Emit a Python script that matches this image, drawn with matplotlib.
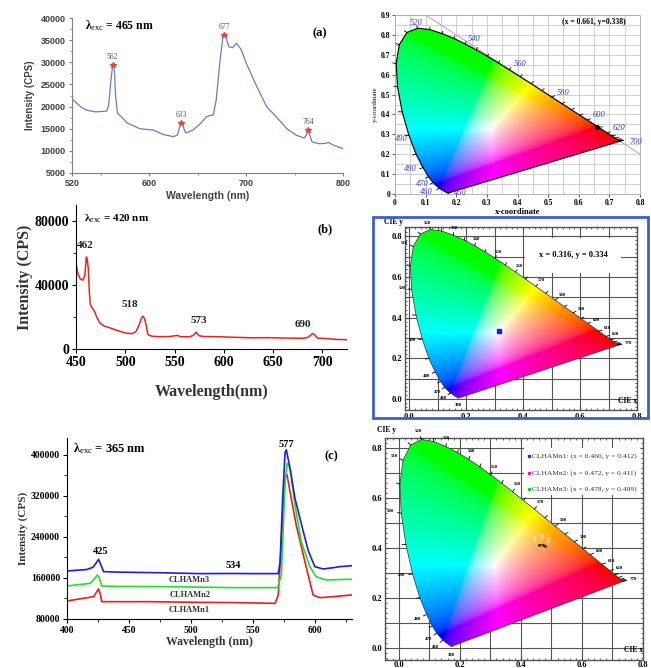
import matplotlib
matplotlib.use('Agg')
import matplotlib.pyplot as plt
import numpy as np
from matplotlib.path import Path
from matplotlib.patches import PathPatch, Rectangle
from matplotlib.ticker import MultipleLocator, FuncFormatter

plt.rcParams['mathtext.fontset'] = 'custom'
plt.rcParams['mathtext.rm'] = 'Liberation Serif'
plt.rcParams['mathtext.bf'] = 'Liberation Serif:bold'
plt.rcParams['mathtext.it'] = 'Liberation Serif:italic'

# (a) emission spectrum, excitation 465 nm
wl_a = [520, 522, 530, 535, 544, 552, 556, 558, 560, 562, 563, 564, 565, 567, 571, 577,
        590, 604, 614, 625, 629, 631, 633, 635, 637, 639, 645, 652, 659, 663, 666, 669,
        673, 676, 678, 680, 682, 686, 690, 695, 700, 711, 721, 731, 742, 752, 760, 762,
        764, 766, 768, 776, 782, 785, 790, 800]
int_a = [21800, 21300, 19800, 19200, 18800, 18900, 19000, 20500, 25500, 29300, 29600, 27500,
         22500, 18500, 17700, 16300, 15000, 14700, 13700, 13200, 13600, 15200, 16200, 15400,
         14200, 14100, 14700, 16000, 17700, 18000, 18100, 21500, 30500, 35800, 36400, 35000,
         33500, 33300, 34300, 32800, 29800, 24500, 20000, 17700, 15000, 13500, 12900, 13500,
         14600, 13400, 12000, 11600, 11700, 11900, 11300, 10500]
peaks_a = [562, 633, 677, 764]

# (b) emission spectrum, excitation 420 nm
wl_b = [450, 452, 454, 457, 459, 460.5, 461.5, 462.5, 463.5, 464.5, 466, 469, 471, 474, 478,
        483, 491, 500, 507, 511, 514, 516.5, 518, 519.5, 521, 523, 527, 535, 545, 553, 556,
        565, 569, 572, 575, 580, 594, 611, 630, 645, 665, 680, 685, 688, 690, 692, 695, 705,
        714, 725]
int_b = [53500, 47000, 44000, 43000, 46000, 57500, 56000, 50000, 36000, 28000, 26000, 23300,
         20000, 16500, 14500, 13500, 11800, 10000, 9600, 11000, 15000, 19500, 20500, 19000,
         15500, 9000, 8000, 7700, 7800, 8500, 7700, 7600, 8500, 10500, 8200, 7800, 7700, 7300,
         7000, 7100, 6800, 6700, 7200, 8500, 9700, 9000, 6800, 6500, 6000, 5800]
peaks_b = [462, 518, 573, 690]

# (c) emission spectra, excitation 365 nm
wl_c1 = [400, 421.5, 424, 425.5, 427, 428, 467, 507, 534, 568, 570.5, 573, 576, 577.5, 580,
         585, 592, 598.6, 604, 614.8, 630]
int_c1 = [115100, 123600, 133000, 138500, 128000, 113800, 113800, 112500, 112000, 110500,
          126700, 230900, 355000, 362000, 328000, 263000, 191800, 126700, 121600, 123600, 127000]
wl_c2 = [400, 418.8, 422, 424.5, 426, 428, 440, 480, 534, 570, 573, 576, 577.7, 580, 584, 589,
         596, 601, 609, 620, 630]
int_c2 = [144400, 149600, 158000, 165900, 160700, 144400, 143500, 143100, 141200, 141200,
          165900, 348000, 383700, 373900, 302000, 230900, 182100, 162600, 156100, 157000, 157600]
wl_c3 = [400, 416, 421, 423, 425.5, 427.6, 429.5, 440, 453, 480, 507, 534, 550, 570.5, 572, 574,
         576, 577, 580, 584, 590, 594.6, 600, 606.7, 614.8, 620, 630]
int_c3 = [173700, 176500, 181000, 187300, 196400, 184000, 172400, 171500, 171000, 170000, 168500,
          168800, 168500, 168500, 192000, 315000, 405000, 410000, 374000, 315000, 257000, 214000,
          182000, 177600, 180000, 182000, 184000]
names_c = ['CLHAMn1', 'CLHAMn2', 'CLHAMn3']

# CIE 1931 spectral locus
locus_nm = [380, 390, 400, 410, 420, 430, 440, 450, 460, 470, 475, 480, 485, 490, 495, 500,
            505, 510, 515, 520, 525, 530, 535, 540, 545, 550, 555, 560, 565, 570, 575, 580,
            585, 590, 595, 600, 610, 620, 630, 640, 650, 660, 680, 700]
locus_x = [0.1741, 0.1738, 0.1733, 0.1726, 0.1714, 0.1689, 0.1644, 0.1566, 0.1440, 0.1241,
           0.1096, 0.0913, 0.0687, 0.0454, 0.0235, 0.0082, 0.0039, 0.0139, 0.0389, 0.0743,
           0.1142, 0.1547, 0.1929, 0.2296, 0.2658, 0.3016, 0.3373, 0.3731, 0.4087, 0.4441,
           0.4788, 0.5125, 0.5448, 0.5752, 0.6029, 0.6270, 0.6658, 0.6915, 0.7079, 0.7190,
           0.7260, 0.7300, 0.7334, 0.7347]
locus_y = [0.0050, 0.0049, 0.0048, 0.0048, 0.0051, 0.0069, 0.0109, 0.0177, 0.0297, 0.0578,
           0.0868, 0.1327, 0.2007, 0.2950, 0.4127, 0.5384, 0.6548, 0.7502, 0.8120, 0.8338,
           0.8262, 0.8059, 0.7816, 0.7543, 0.7243, 0.6923, 0.6589, 0.6245, 0.5896, 0.5547,
           0.5202, 0.4866, 0.4544, 0.4242, 0.3965, 0.3725, 0.3340, 0.3083, 0.2920, 0.2809,
           0.2740, 0.2700, 0.2666, 0.2653]

cie_a = (0.661, 0.338)
cie_b = (0.316, 0.334)
cie_c_x = [0.460, 0.472, 0.478]
cie_c_y = [0.412, 0.411, 0.409]

# wavelength labels on the locus of diagram (a), with where they sit
labels_a = [520, 540, 560, 580, 600, 620, 700, 490, 480, 470, 460, 450]
labels_a_x = [0.071, 0.258, 0.409, 0.549, 0.666, 0.730, 0.785, 0.022, 0.049, 0.088, 0.104, 0.215]
labels_a_y = [0.862, 0.781, 0.652, 0.510, 0.397, 0.334, 0.263, 0.275, 0.124, 0.049, 0.010, 0.004]
labels_bc = [380, 460, 470, 480, 490, 500, 510, 520, 530, 540, 550, 560, 570, 580, 590,
             600, 610, 620, 700]

W, H = 651, 668
fig = plt.figure(figsize=(W / 100, H / 100), dpi=100)


def add_ax(l, t, r, b):
    return fig.add_axes([l / W, 1 - b / H, (r - l) / W, (b - t) / H])


SERIF = 'Liberation Serif'
SANS = 'Liberation Sans'


def cie_fill(ax):
    n = 450
    gx, gy = np.meshgrid(np.linspace(0, 0.8, n), np.linspace(0.001, 0.9, n))
    X = gx / gy
    Z = (1 - gx - gy) / gy
    M = np.array([[3.2406, -1.5372, -0.4986],
                  [-0.9689, 1.8758, 0.0415],
                  [0.0557, -0.2040, 1.0570]])
    rgb = np.stack([M[i, 0] * X + M[i, 1] + M[i, 2] * Z for i in range(3)], axis=-1)
    rgb = np.clip(rgb, 0, None)
    rgb = rgb / (rgb.max(axis=-1, keepdims=True) + 1e-9)
    rgb = np.where(rgb <= 0.0031308, 12.92 * rgb, 1.055 * rgb ** (1 / 2.4) - 0.055)
    im = ax.imshow(np.clip(rgb, 0, 1), extent=(0, 0.8, 0.001, 0.9), origin='lower',
                   interpolation='bilinear', aspect='auto', zorder=2)
    verts = np.column_stack([locus_x + [locus_x[0]], locus_y + [locus_y[0]]])
    patch = PathPatch(Path(verts), transform=ax.transData, facecolor='none',
                      edgecolor='none')
    ax.add_patch(patch)
    im.set_clip_path(patch)
    return verts


def locus_dirs():
    lx, ly = np.array(locus_x), np.array(locus_y)
    out = []
    for i in range(len(lx)):
        i0, i1 = max(i - 1, 0), min(i + 1, len(lx) - 1)
        tx, ty = lx[i1] - lx[i0], ly[i1] - ly[i0]
        nv = np.array([-ty, tx])
        nv = nv / (np.hypot(*nv) + 1e-12)
        rv = np.array([lx[i] - 0.33, ly[i] - 0.33])
        rv = rv / np.hypot(*rv)
        d = nv + rv
        out.append(d / np.hypot(*d))
    return out


def locus_ticks(ax, tick_len, color):
    dirs = locus_dirs()
    for i, nm in enumerate(locus_nm):
        if nm < 460:
            continue
        d = dirs[i]
        ax.plot([locus_x[i], locus_x[i] + d[0] * tick_len],
                [locus_y[i], locus_y[i] + d[1] * tick_len],
                color=color, lw=0.6, zorder=4, clip_on=False)


def locus_labels(ax, labels, dist, txt_kw):
    dirs = locus_dirs()
    for nm in labels:
        i = locus_nm.index(nm)
        d = dirs[i]
        txt = '770' if nm == 700 else str(nm)
        ax.text(locus_x[i] + d[0] * dist, locus_y[i] + d[1] * dist, txt,
                ha='center', va='center', zorder=5, clip_on=False, **txt_kw)


# ---------------- (a) spectrum ----------------
ax = add_ax(72, 18, 343, 173)
ax.plot(wl_a, int_a, color='#6b7bc0', lw=0.9)
pk_a = np.interp(peaks_a, wl_a, int_a)
ax.plot(peaks_a, pk_a, ls='none', marker='*', color='#e8453c', ms=4)
for p, v in zip(peaks_a, pk_a):
    ax.text(p, v + 900, str(p), ha='center', va='bottom', fontsize=5.5,
            family=SERIF, color='#555555')
ax.set_xlim(520, 800)
ax.set_ylim(5000, 40000)
ax.set_xticks([520, 600, 700, 800])
ax.set_xticks([550, 650, 750], minor=True)
ax.yaxis.set_major_locator(MultipleLocator(5000))
ax.yaxis.set_minor_locator(MultipleLocator(2500))
for s in ['top', 'right']:
    ax.spines[s].set_visible(False)
ax.spines['left'].set_color('#808080')
ax.spines['bottom'].set_color('#808080')
ax.tick_params(labelsize=6.5, length=2.5, color='#808080', pad=2)
ax.tick_params(which='minor', length=1.5, color='#808080')
for lb in ax.get_xticklabels() + ax.get_yticklabels():
    lb.set_fontweight('bold')
    lb.set_family(SANS)
    lb.set_color('#404040')
ax.set_xlabel('Wavelength (nm)', fontsize=7.5, fontweight='bold', family=SANS,
              color='#404040', labelpad=2)
ax.set_ylabel('Intensity (CPS)', fontsize=7, fontweight='bold', family=SANS,
              color='#404040', labelpad=4)
ax.text(533, 38300, r'$\mathbf{\lambda}_{\rm exc}$ = 465 nm', fontsize=8.5,
        fontweight='bold', family=SERIF, va='center')
ax.text(776, 36500, '(a)', fontsize=9, fontweight='bold', family=SERIF, ha='center',
        va='center')

# ---------------- (b) spectrum ----------------
ax = add_ax(76, 205, 347, 349)
ax.plot(wl_b, int_b, color='#e8231f', lw=1.1)
ax.set_xlim(450, 725)
ax.set_ylim(0, 90000)
ax.set_xticks([450, 500, 550, 600, 650, 700])
ax.set_yticks([0, 40000, 80000])
ax.yaxis.set_minor_locator(MultipleLocator(20000))
for s in ['top', 'right']:
    ax.spines[s].set_visible(False)
ax.tick_params(labelsize=10, length=3, pad=2)
ax.tick_params(which='minor', length=2)
for lb in ax.get_xticklabels() + ax.get_yticklabels():
    lb.set_fontweight('bold')
    lb.set_family(SERIF)
ax.set_xlabel('Wavelength(nm)', fontsize=11.5, fontweight='bold', family=SERIF,
              color='#333333', labelpad=11)
ax.set_ylabel('Intensity (CPS)', fontsize=11.5, fontweight='bold', family=SERIF,
              color='#333333', labelpad=1)
pk_b = np.interp(peaks_b, wl_b, int_b)
offs_b = [(-3, 9000), (-13, 4500), (2, 5000), (-10, 3000)]
for p, v, (dx, dy) in zip(peaks_b, pk_b, offs_b):
    ax.text(p + dx, v + dy, str(p), ha='center', va='bottom', fontsize=8,
            fontweight='bold', family=SERIF, color='#222222')
ax.text(458, 81500, r'$\mathbf{\lambda}_{\rm exc}$ = 420 nm', fontsize=8,
        fontweight='bold', family=SERIF, va='center')
ax.text(703, 75000, '(b)', fontsize=9, fontweight='bold', family=SERIF, ha='center',
        va='center')

# ---------------- (c) spectra ----------------
ax = add_ax(67, 438, 352, 619)
ax.plot(wl_c1, int_c1, color='#ee1c1c', lw=1.2)
ax.plot(wl_c2, int_c2, color='#22e022', lw=1.2)
ax.plot(wl_c3, int_c3, color='#1c1cee', lw=1.2)
ax.set_xlim(400, 630)
ax.set_ylim(80000, 433000)
ax.set_xticks([400, 450, 500, 550, 600])
ax.set_xticks([425, 475, 525, 575, 625], minor=True)
ax.set_yticks([80000, 160000, 240000, 320000, 400000])
ax.yaxis.set_minor_locator(MultipleLocator(40000))
for s in ['top', 'right']:
    ax.spines[s].set_visible(False)
ax.tick_params(labelsize=7, length=3, pad=2)
ax.tick_params(which='minor', length=2)
for lb in ax.get_xticklabels() + ax.get_yticklabels():
    lb.set_fontweight('bold')
    lb.set_family(SERIF)
ax.set_xlabel('Wavelength (nm)', fontsize=8.5, fontweight='bold', family=SERIF,
              color='#333333', labelpad=1)
ax.set_ylabel('Intensity (CPS)', fontsize=8, fontweight='bold', family=SERIF,
              color='#333333', labelpad=2)
for name, y in zip(names_c, [97600, 127000, 156000]):
    ax.text(499, y, name, ha='center', va='center', fontsize=6, fontweight='bold',
            family=SERIF, color='#333333')
ax.text(427, 211000, '425', ha='center', va='center', fontsize=7.5, fontweight='bold',
        family=SERIF)
ax.text(534, 184000, '534', ha='center', va='center', fontsize=7.5, fontweight='bold',
        family=SERIF)
ax.text(577, 421000, '577', ha='center', va='center', fontsize=7.5, fontweight='bold',
        family=SERIF)
ax.text(405, 412000, r'$\mathbf{\lambda}_{\rm exc}$ = 365 nm', fontsize=9,
        fontweight='bold', family=SERIF, va='center')
ax.text(613, 397000, '(c)', fontsize=9, fontweight='bold', family=SERIF, ha='center',
        va='center')

# ---------------- CIE (a) ----------------
ax = add_ax(395, 15, 640, 194)
verts = cie_fill(ax)
ax.plot(verts[:, 0], verts[:, 1], color='black', lw=0.8, zorder=3)
ax.set_xlim(0, 0.8)
ax.set_ylim(0, 0.9)
ax.xaxis.set_major_locator(MultipleLocator(0.1))
ax.yaxis.set_major_locator(MultipleLocator(0.1))
ax.xaxis.set_minor_locator(MultipleLocator(0.05))
ax.yaxis.set_minor_locator(MultipleLocator(0.05))
ax.grid(True, which='both', color='#c8c8c8', lw=0.6, zorder=0)
ax.set_axisbelow(True)
fmt = FuncFormatter(lambda v, _: '0' if abs(v) < 1e-9 else '%.1f' % v)
ax.xaxis.set_major_formatter(fmt)
ax.yaxis.set_major_formatter(fmt)
ax.tick_params(labelsize=5.5, length=2, pad=1.5, color='#666666')
ax.tick_params(which='minor', length=0)
for lb in ax.get_xticklabels() + ax.get_yticklabels():
    lb.set_fontweight('bold')
    lb.set_family(SERIF)
for s in ax.spines.values():
    s.set_color('#aaaaaa')
    s.set_linewidth(0.6)
xx = np.linspace(0.1, 0.8, 10)
ax.plot(xx, 1 - xx, color='#aaaaaa', lw=0.7, zorder=1.5)
locus_ticks(ax, 0.012, 'black')
for nm, tx, ty in zip(labels_a, labels_a_x, labels_a_y):
    ax.text(tx, ty, str(nm), ha='center', va='center', fontsize=6, family=SERIF,
            style='italic', color='#3a3ad0', zorder=5, clip_on=False)
ax.plot(*cie_a, marker='o', color='black', ms=2.5, zorder=6)
ax.text(0.648, 0.867, '(x = %.3f, y=%.3f)' % cie_a, ha='center', va='center',
        fontsize=5.5, fontweight='bold', family=SERIF)
ax.set_xlabel('x-coordinate', fontsize=6, fontweight='bold', family=SERIF, labelpad=1)
ax.set_ylabel('y-coordinate', fontsize=5, family=SERIF, labelpad=2)


def cie_style(ax, xlim, ylim, xpad=2):
    ax.set_xlim(*xlim)
    ax.set_ylim(*ylim)
    ax.set_xticks([0, 0.2, 0.4, 0.6, 0.8])
    ax.set_yticks([0, 0.2, 0.4, 0.6, 0.8])
    ax.xaxis.set_minor_locator(MultipleLocator(0.02))
    ax.yaxis.set_minor_locator(MultipleLocator(0.02))
    for v in np.arange(0, 0.81, 0.1):
        ax.axvline(v, color='#555555', lw=0.8, zorder=0.5)
        ax.axhline(v, color='#555555', lw=0.8, zorder=0.5)
    ax.tick_params(labelsize=6, length=2.5, pad=2, direction='in', top=True, right=True,
                   color='#444444')
    ax.tick_params(axis='x', pad=xpad)
    ax.tick_params(which='minor', length=1.5, direction='in', top=True, right=True,
                   color='#444444')
    ax.xaxis.set_major_formatter(FuncFormatter(lambda v, _: '%.1f' % v))
    ax.yaxis.set_major_formatter(FuncFormatter(lambda v, _: '%.1f' % v))
    for lb in ax.get_xticklabels() + ax.get_yticklabels():
        lb.set_fontweight('bold')
        lb.set_family(SERIF)
    for s in ax.spines.values():
        s.set_color('#555555')
        s.set_linewidth(1.0)


small_kw = dict(fontsize=3.5, family=SERIF, fontweight='bold', color='black')

# ---------------- CIE (b) ----------------
fig.add_artist(Rectangle((373 / W, 1 - 418 / H), 275 / W, 201 / H, transform=fig.transFigure,
                         facecolor='none', edgecolor='#3a5fd0', lw=2))
ax = add_ax(405, 227, 637, 410)
verts = cie_fill(ax)
ax.plot(verts[:, 0], verts[:, 1], color='#333333', lw=0.5, zorder=3)
cie_style(ax, (-0.015, 0.8), (-0.054, 0.846))
locus_ticks(ax, 0.012, 'black')
locus_labels(ax, labels_bc, 0.035, small_kw)
ax.plot(*cie_b, marker='s', color='#1a1aff', ms=2.5, zorder=6)
ax.text(0.575, 0.706, 'x = %.3f, y = %.3f' % cie_b, ha='center', va='center', fontsize=6,
        fontweight='bold', family=SERIF, zorder=6,
        bbox=dict(boxstyle='square,pad=1.6', facecolor='white', edgecolor='none'))
ax.text(-0.09, 1.03, 'CIE y', transform=ax.transAxes, fontsize=5.5, fontweight='bold',
        family=SERIF, va='center')
ax.text(0.92, 0.03, 'CIE x', transform=ax.transAxes, fontsize=5.5, fontweight='bold',
        family=SERIF, va='bottom')

# ---------------- CIE (c) ----------------
ax = add_ax(385, 438, 643, 660)
verts = cie_fill(ax)
ax.plot(verts[:, 0], verts[:, 1], color='#333333', lw=0.5, zorder=3)
cie_style(ax, (-0.045, 0.8), (-0.05, 0.84), xpad=1)
locus_ticks(ax, 0.012, 'black')
locus_labels(ax, labels_bc, 0.035, small_kw)
ax.add_patch(Rectangle((0.41, 0.61), 0.385, 0.19, facecolor='white', edgecolor='none',
                       zorder=1))
ax.plot(cie_c_x, cie_c_y, color='#3a2a10', lw=0.9, marker='.', ms=2, zorder=6)
for i, (cx, cy) in enumerate(zip(cie_c_x, cie_c_y)):
    ax.text(cx - 0.003 + 0.012 * (i - 1), cy + 0.02 + (0.01 if i == 1 else 0), str(i + 1),
            ha='center', va='center', fontsize=6, fontweight='bold', family=SERIF,
            color='#fff0c0', zorder=6)
bullet_colors = ['#3030c0', '#d020d0', '#20c040']
for k, (name, cx, cy) in enumerate(zip(names_c, cie_c_x, cie_c_y)):
    ty = 0.767 - 0.066 * k
    ax.plot(0.425, ty, marker='s', ms=1.8, color=bullet_colors[k], zorder=6)
    ax.text(0.438, ty, '%s: (x = %.3f, y = %.3f)' % (name, cx, cy), fontsize=5.4,
            family=SERIF, va='center', ha='left', color='#333333', zorder=6)
ax.text(-0.03, 1.035, 'CIE y', transform=ax.transAxes, fontsize=5.5, fontweight='bold',
        family=SERIF, va='center')
ax.text(0.925, 0.025, 'CIE x', transform=ax.transAxes, fontsize=5.5, fontweight='bold',
        family=SERIF, va='bottom')

fig.savefig('out.png', dpi=100)
